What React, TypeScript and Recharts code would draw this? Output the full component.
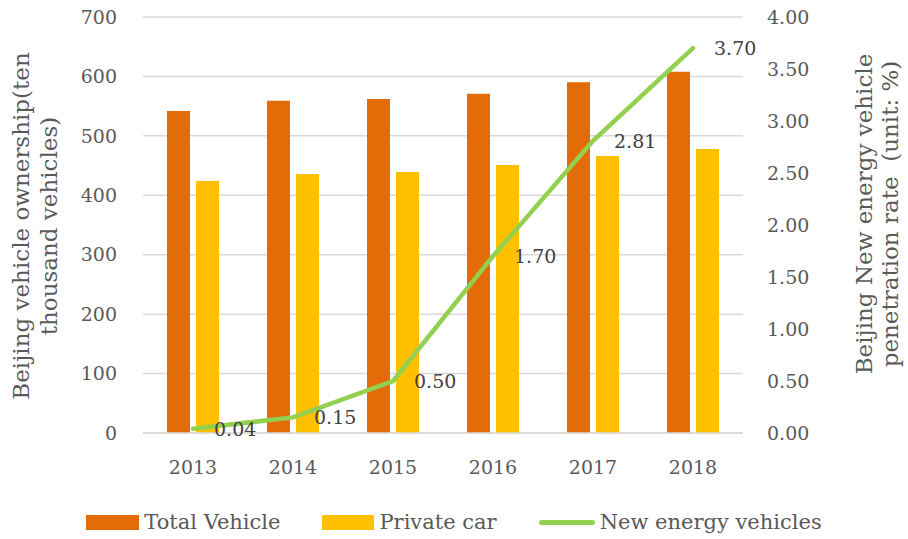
import { Bar, CartesianGrid, ComposedChart, LabelList, Legend, Line, XAxis, YAxis } from 'recharts'

const years = ['2013', '2014', '2015', '2016', '2017', '2018']
const totalVehicle = [542, 559, 562, 571, 590, 608]
const privateCar = [424, 436, 439, 451, 466, 478]
const newEnergyRate = [0.04, 0.15, 0.5, 1.7, 2.81, 3.7]
const leftTicks = [0, 100, 200, 300, 400, 500, 600, 700]
const rightTicks = [0, 0.5, 1, 1.5, 2, 2.5, 3, 3.5, 4]

const data = years.map((year, i) => ({
  year,
  total: totalVehicle[i],
  private: privateCar[i],
  nev: newEnergyRate[i],
}))

const FONT = '"DejaVu Serif", serif'
const GREY = '#595959'
const ORANGE = '#E36C09'
const YELLOW = '#FFC000'
const GREEN = '#92D050'

/**
 * LeftTitle
 * Two-line rotated title for the vehicle ownership axis.
 */
function LeftTitle() {
  return (
    <g fontFamily={FONT} fontSize={23} fill={GREY}>
      <text x={29} y={226} textAnchor="middle" transform="rotate(-90, 29, 226)">
        Beijing vehicle ownership(ten
      </text>
      <text x={57} y={226} textAnchor="middle" transform="rotate(-90, 57, 226)">
        thousand vehicles)
      </text>
    </g>
  )
}

/**
 * RightTitle
 * Two-line rotated title for the penetration rate axis.
 */
function RightTitle() {
  return (
    <g fontFamily={FONT} fontSize={23} fill={GREY}>
      <text x={872} y={214} textAnchor="middle" transform="rotate(-90, 872, 214)">
        Beijing New energy vehicle
      </text>
      <text x={898} y={214} textAnchor="middle" transform="rotate(-90, 898, 214)" xmlSpace="preserve">
        penetration rate  (unit: %)
      </text>
    </g>
  )
}

/**
 * ChartLegend
 * Excel-style legend row under the plot.
 */
function ChartLegend() {
  const item = (swatch: React.ReactNode, label: string) => (
    <div style={{ display: 'flex', alignItems: 'center' }}>
      {swatch}
      <span style={{ marginLeft: 5 }}>{label}</span>
    </div>
  )
  return (
    <div
      style={{
        display: 'flex',
        justifyContent: 'center',
        gap: 42,
        fontFamily: FONT,
        fontSize: 21,
        color: GREY,
        width: 908,
      }}
    >
      {item(<div style={{ width: 53, height: 15, background: ORANGE }} />, 'Total Vehicle')}
      {item(<div style={{ width: 52, height: 15, background: YELLOW }} />, 'Private car')}
      {item(<div style={{ width: 56, height: 5, borderRadius: 3, background: GREEN }} />, 'New energy vehicles')}
    </div>
  )
}

export default function App() {
  return (
    <div style={{ position: 'absolute', left: 0, top: 0, width: 908, height: 539, background: '#fff' }}>
      <ComposedChart
        width={908}
        height={539}
        data={data}
        margin={{ top: 17, right: 0, bottom: 46, left: 0 }}
        barCategoryGap="24%"
        barGap={6}
      >
        <CartesianGrid yAxisId="left" vertical={false} stroke="#D9D9D9" strokeWidth={1.5} />
        <XAxis
          dataKey="year"
          height={60}
          tickLine={false}
          tickSize={0}
          tickMargin={28}
          axisLine={{ stroke: '#D9D9D9', strokeWidth: 1.5 }}
          tick={{ fill: GREY, fontFamily: FONT, fontSize: 19 }}
        />
        <YAxis
          yAxisId="left"
          width={143}
          domain={[0, 700]}
          ticks={leftTicks}
          axisLine={false}
          tickLine={false}
          tickSize={0}
          tickMargin={26}
          tick={{ fill: GREY, fontFamily: FONT, fontSize: 19 }}
          label={LeftTitle}
        />
        <YAxis
          yAxisId="right"
          orientation="right"
          width={165}
          domain={[0, 4]}
          ticks={rightTicks}
          axisLine={false}
          tickLine={false}
          tickSize={0}
          tickMargin={24}
          tickFormatter={(v: number) => v.toFixed(2)}
          tick={{ fill: GREY, fontFamily: FONT, fontSize: 19 }}
          label={RightTitle}
        />
        <Bar yAxisId="left" dataKey="total" name="Total Vehicle" fill={ORANGE} isAnimationActive={false} />
        <Bar yAxisId="left" dataKey="private" name="Private car" fill={YELLOW} isAnimationActive={false} />
        <Line
          yAxisId="right"
          type="linear"
          dataKey="nev"
          name="New energy vehicles"
          stroke={GREEN}
          strokeWidth={4.5}
          strokeLinecap="round"
          dot={false}
          activeDot={false}
          isAnimationActive={false}
        >
          <LabelList
            dataKey="nev"
            position="right"
            offset={21}
            formatter={(v: number) => v.toFixed(2)}
            fill="#404040"
            fontFamily={FONT}
            fontSize={19}
          />
        </Line>
        <Legend
          layout="horizontal"
          verticalAlign="middle"
          wrapperStyle={{ top: 510, left: 0, width: 908 }}
          content={ChartLegend}
        />
      </ComposedChart>
    </div>
  )
}
